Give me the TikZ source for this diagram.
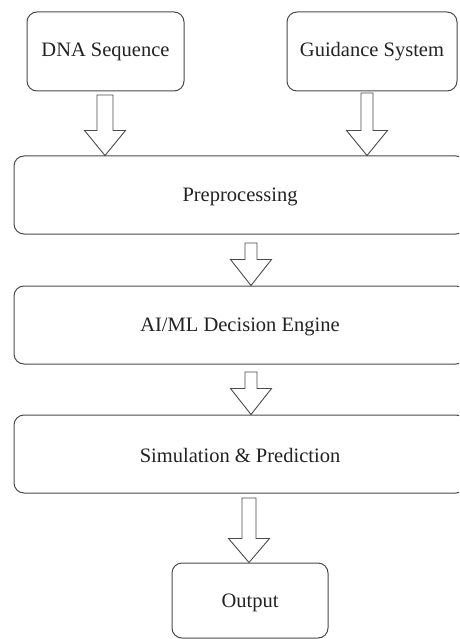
\documentclass[tikz,border=0pt]{standalone}
\usepackage{fontspec}
\setmainfont{Liberation Serif}
\usetikzlibrary{calc}
\definecolor{edge}{HTML}{4A4A4A}
\definecolor{ink}{HTML}{222222}

% hollow block arrow: #1 start, #2 tip, #3 half shaft width, #4 half head width, #5 head length
\newcommand{\blockarrow}[5]{%
  \draw[arrowline] let \p1=(#1), \p2=(#2) in
    (\x1-#3,\y1) -- (\x1+#3,\y1) -- (\x1+#3,\y2+#5) -- (\x1+#4,\y2+#5)
    -- (\x1,\y2) -- (\x1-#4,\y2+#5) -- (\x1-#3,\y2+#5) -- cycle;}

\tikzset{
  box/.style={draw=edge, line width=1pt, rounded corners=10pt, fill=white,
    inner sep=0pt, text=ink, font=\fontsize{20.5}{24}\selectfont},
  arrowline/.style={draw=edge, line width=0.9pt, fill=white, line join=miter}
}

\begin{document}
\begin{tikzpicture}[x=1pt, y=-1pt]
  \useasboundingbox (0,0) rectangle (459,639);
  \clip (0,0) rectangle (459,639);

  % input boxes
  \node[box, minimum width=157pt, minimum height=79pt] (dna) at (105.5,51.5) {DNA Sequence};
  \node[box, minimum width=170pt, minimum height=79pt] (guide) at (372,51.5) {Guidance System};

  % processing stages (wider than the page, right side cut off)
  \node[box, minimum width=452pt, minimum height=78pt] (pre) at (240,195) {};
  \node[text=ink, font=\fontsize{20.5}{24}\selectfont] (pretxt) at (240,197) {Preprocessing};

  \node[box, minimum width=452pt, minimum height=78pt] (ai) at (240,325) {};
  \node[text=ink, font=\fontsize{20.5}{24}\selectfont] (aitxt) at (240,327) {AI/ML Decision Engine};

  \node[box, minimum width=452pt, minimum height=78pt] (sim) at (240,454) {};
  \node[text=ink, font=\fontsize{20.5}{24}\selectfont] (simtxt) at (240,455) {Simulation \& Prediction};

  % final output
  \node[box, minimum width=156pt, minimum height=75pt] (out) at (250,600.5) {};
  \node[text=ink, font=\fontsize{20.5}{24}\selectfont] (outtxt) at (250,603) {Output};

  % arrow start points just below each source box
  \coordinate (a1s) at (105,95);
  \coordinate (a2s) at (367,93);
  \coordinate (a3s) at (251,243);
  \coordinate (a4s) at (251,372);
  \coordinate (a5s) at (249,498);

  \blockarrow{a1s}{a1s |- pre.north}{8pt}{20.5pt}{25pt}
  \blockarrow{a2s}{a2s |- pre.north}{6pt}{20.5pt}{25pt}
  \blockarrow{a3s}{a3s |- ai.north}{6pt}{20.5pt}{26pt}
  \blockarrow{a4s}{a4s |- sim.north}{6pt}{20.5pt}{26pt}
  \blockarrow{a5s}{a5s |- out.north}{7pt}{20.5pt}{24pt}
\end{tikzpicture}
\end{document}
